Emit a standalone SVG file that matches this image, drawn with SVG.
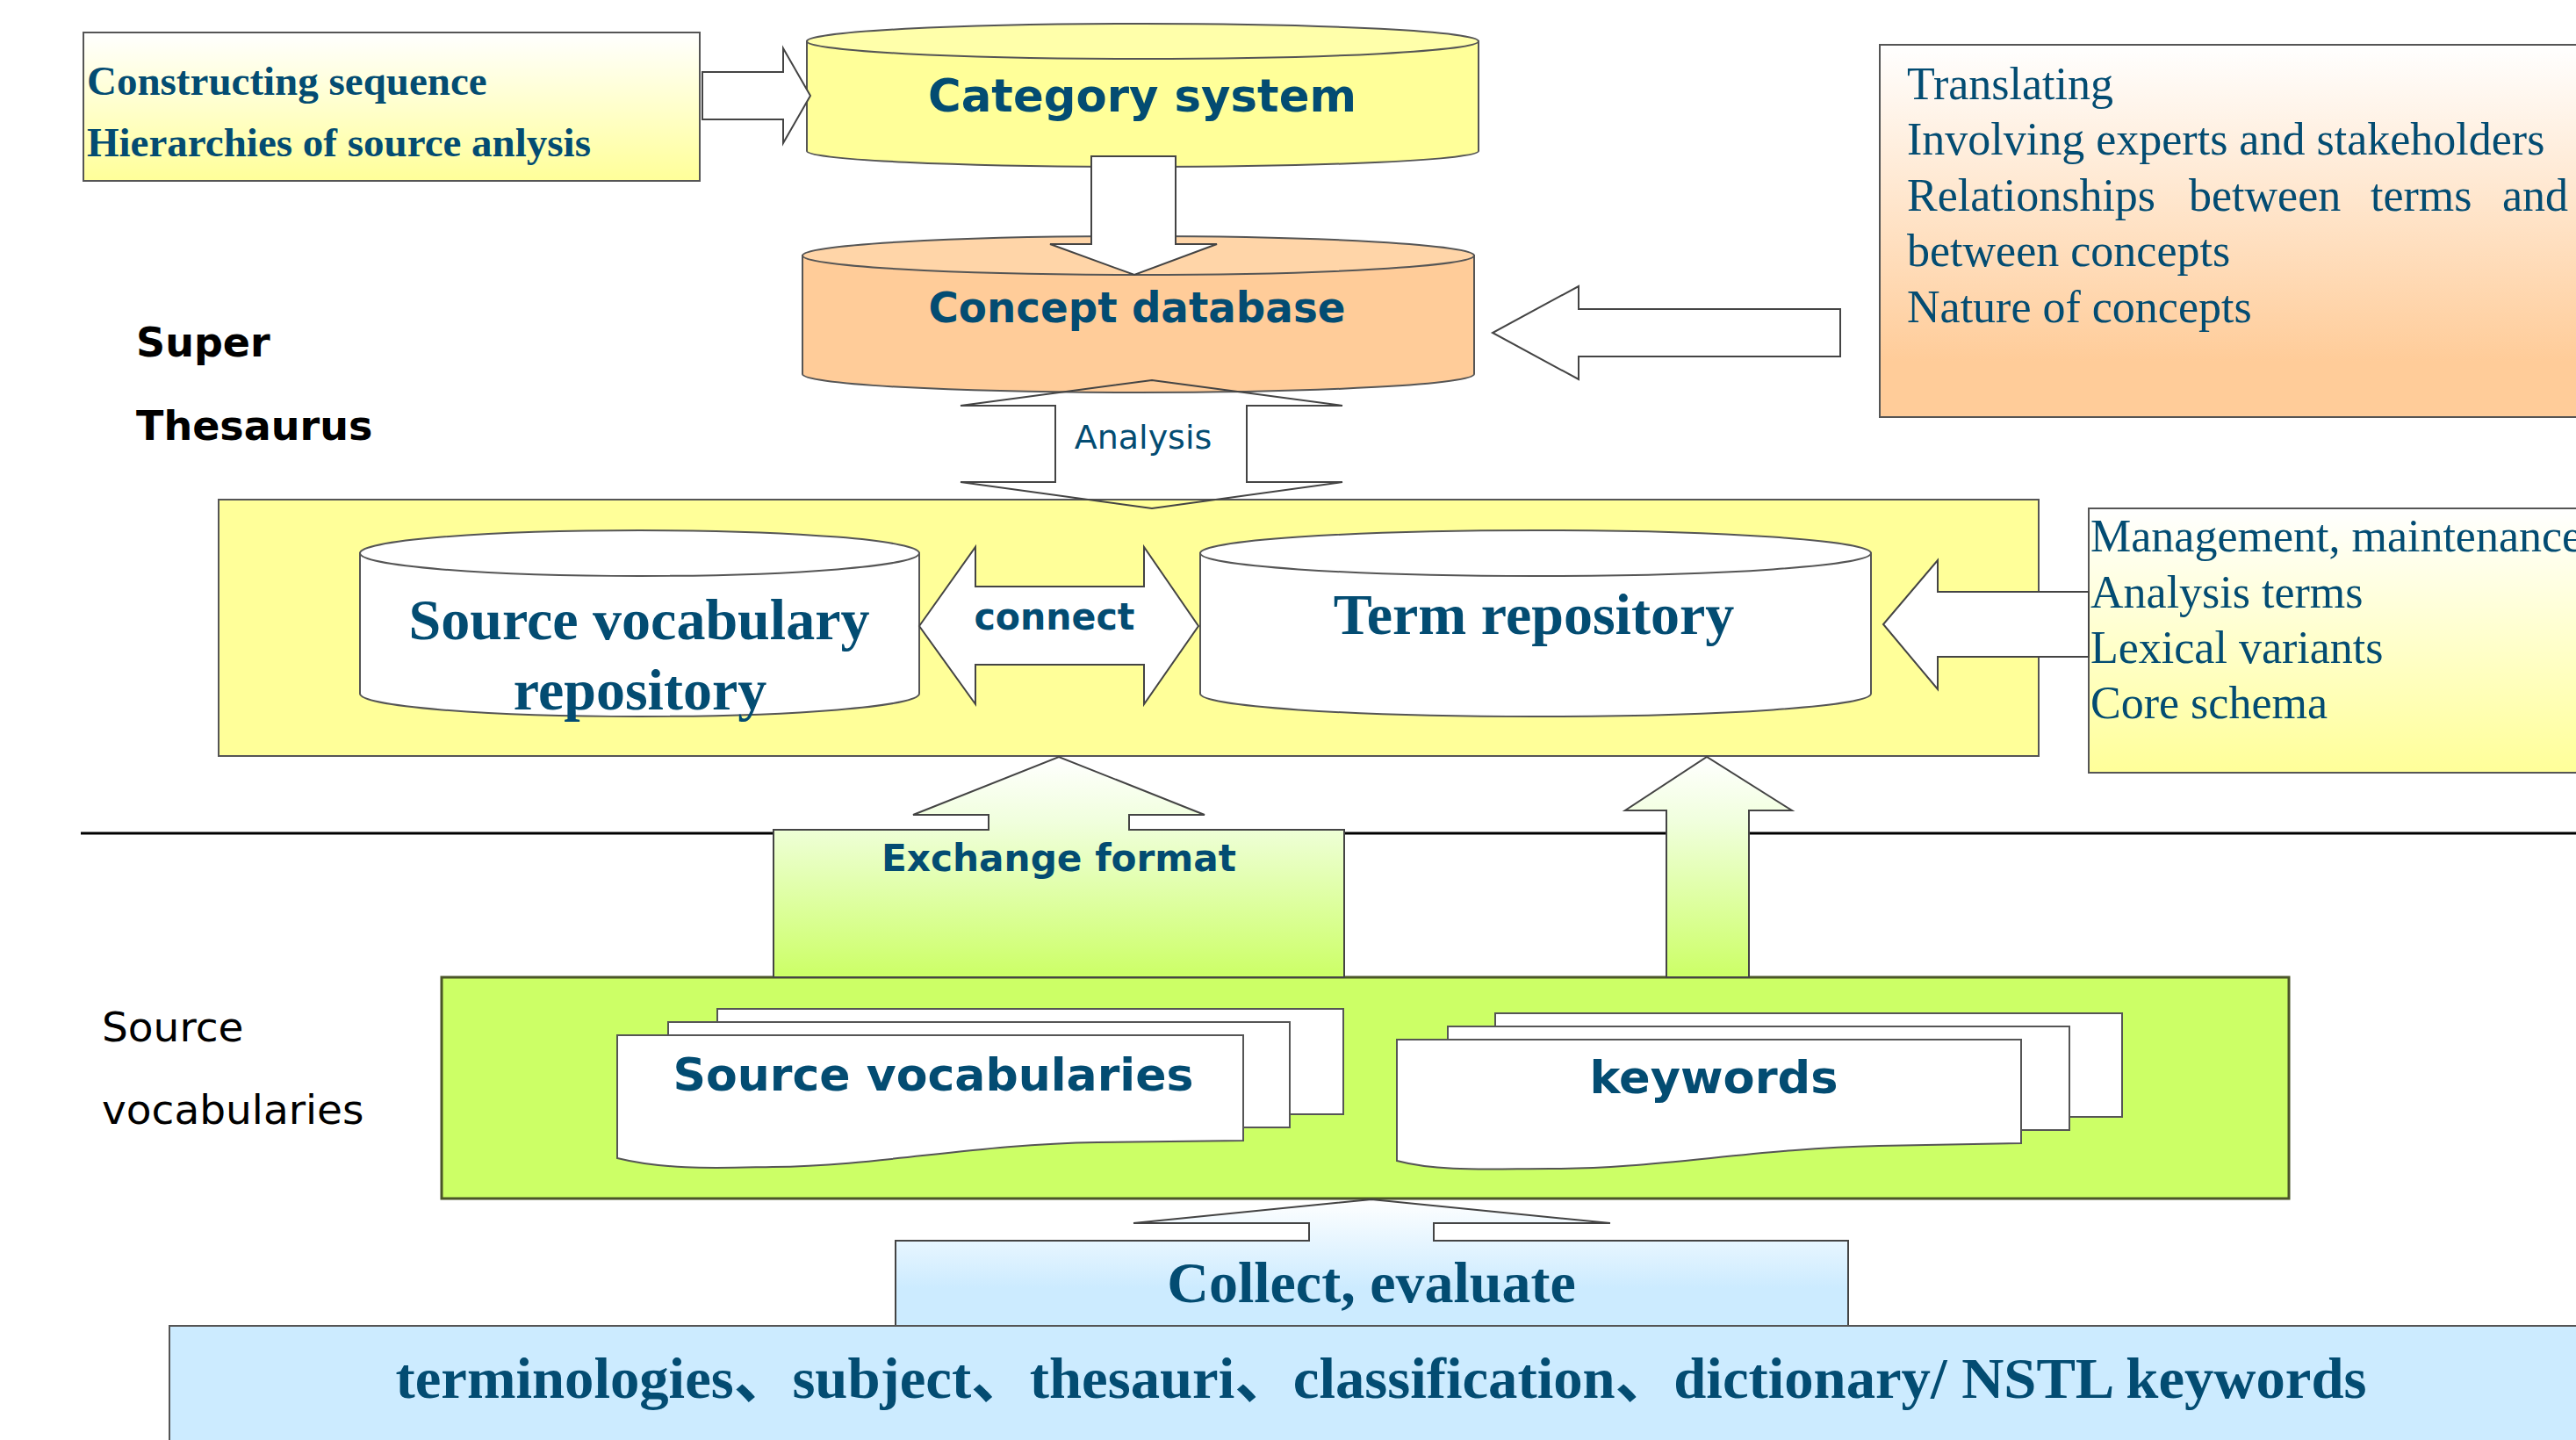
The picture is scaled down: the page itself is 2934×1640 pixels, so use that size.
<svg xmlns="http://www.w3.org/2000/svg" width="2934" height="1640" viewBox="0 0 2934 1640">
<defs>
<linearGradient id="gYel" x1="0" y1="0" x2="0" y2="1"><stop offset="0" stop-color="#FFFFFF"/><stop offset="1" stop-color="#FFFF99"/></linearGradient>
<linearGradient id="gPeach" x1="0" y1="0" x2="0" y2="1"><stop offset="0" stop-color="#FFFFFF"/><stop offset="0.85" stop-color="#FFCC99"/><stop offset="1" stop-color="#FFCC99"/></linearGradient>
<linearGradient id="gLime" x1="0" y1="0" x2="0" y2="1"><stop offset="0" stop-color="#FFFFFF"/><stop offset="0.3" stop-color="#F0FFDC"/><stop offset="1" stop-color="#CCFF66"/></linearGradient>
<linearGradient id="gBlue" x1="0" y1="0" x2="0" y2="1"><stop offset="0" stop-color="#FFFFFF"/><stop offset="0.7" stop-color="#CCEBFF"/><stop offset="1" stop-color="#CCEBFF"/></linearGradient>
<style>
.box{stroke:#555;stroke-width:2}
.arr{fill:#FFFFFF;stroke:#444;stroke-width:2;stroke-linejoin:miter}
.outl{fill:none;stroke:#444;stroke-width:2}
.cyl{stroke:#555;stroke-width:2}
.sb{font-family:"Liberation Serif","Times New Roman",serif;font-weight:bold;fill:#034C72}
.sr{font-family:"Liberation Serif","Times New Roman",serif;fill:#034C72}
.vb{font-family:"DejaVu Sans",Verdana,sans-serif;font-weight:bold;fill:#034C72}
.vr{font-family:"DejaVu Sans",Verdana,sans-serif;fill:#034C72}
.lab{font-family:"DejaVu Sans",Verdana,sans-serif;fill:#000000}
.cjk{font-family:"Liberation Serif","Noto Sans CJK SC",serif;font-weight:bold;fill:#034C72}
</style>
</defs>
<rect width="2934" height="1640" fill="#FFFFFF"/>

<!-- separator line -->
<line x1="92" y1="949" x2="2934" y2="949" stroke="#000" stroke-width="3"/>

<!-- analysis arrow fill (behind) -->
<polygon points="1312,433 1529,462 1420,462 1420,549 1529,549 1312,579 1094,549 1202,549 1202,462 1094,462" fill="#FFFFFF"/>

<g id="thesaurus-box">
<rect x="249" y="569" width="2073" height="292" fill="#FFFF99" class="box"/>
</g>

<g id="category-system">
<path d="M919,47 V172 A382.5,18 0 0 0 1684,172 V47 Z" fill="#FFFF99" class="cyl"/>
<ellipse cx="1301.5" cy="47" rx="382.5" ry="20" fill="#FFFFAA" class="cyl"/>
<text x="1301" y="127" class="vb" font-size="52" text-anchor="middle" textLength="488" lengthAdjust="spacingAndGlyphs">Category system</text>
</g>

<g id="concept-database">
<path d="M914,291 V426 A382.5,21 0 0 0 1679,426 V291 Z" fill="#FFCC99" class="cyl"/>
<ellipse cx="1296.5" cy="291" rx="382.5" ry="22" fill="#FFD5A8" class="cyl"/>
<text x="1295" y="367" class="vb" font-size="48" text-anchor="middle" textLength="475" lengthAdjust="spacingAndGlyphs">Concept database</text>
</g>

<g id="construct-box">
<rect x="95" y="37" width="702" height="169" fill="url(#gYel)" class="box"/>
<text x="99" y="108" class="sb" font-size="47">Constructing sequence</text>
<text x="99" y="178" class="sb" font-size="47">Hierarchies of source anlysis</text>
</g>

<g id="translating-box">
<rect x="2141" y="51" width="820" height="424" fill="url(#gPeach)" class="box"/>
<text class="sr" font-size="52">
<tspan x="2172" y="113">Translating</tspan>
<tspan x="2172" y="176">Involving experts and stakeholders</tspan>
<tspan x="2172" y="240">Relationships</tspan><tspan x="2493" y="240">between</tspan><tspan x="2700" y="240">terms</tspan><tspan x="2850" y="240">and</tspan>
<tspan x="2172" y="303">between concepts</tspan>
<tspan x="2172" y="367">Nature of concepts</tspan>
</text>
</g>

<g id="management-box">
<rect x="2379" y="579" width="600" height="301" fill="url(#gYel)" class="box"/>
<text class="sr" font-size="52">
<tspan x="2381" y="628">Management, maintenance</tspan>
<tspan x="2381" y="692">Analysis terms</tspan>
<tspan x="2381" y="755">Lexical variants</tspan>
<tspan x="2381" y="818">Core schema</tspan>
</text>
</g>

<g id="source-vocabulary-repository">
<path d="M410,630 V790 A318.5,26 0 0 0 1047,790 V630 Z" fill="#FFFFFF" class="cyl"/>
<ellipse cx="728.5" cy="630" rx="318.5" ry="26" fill="#FFFFFF" class="cyl"/>
<text x="728" y="728" class="sb" font-size="66" text-anchor="middle">Source vocabulary</text>
<text x="729" y="808" class="sb" font-size="66" text-anchor="middle">repository</text>
</g>

<g id="term-repository">
<path d="M1367,630 V790 A382,26 0 0 0 2131,790 V630 Z" fill="#FFFFFF" class="cyl"/>
<ellipse cx="1749" cy="630" rx="382" ry="26" fill="#FFFFFF" class="cyl"/>
<text x="1747" y="722" class="sb" font-size="66" text-anchor="middle">Term repository</text>
</g>

<g id="source-vocabularies-box">
<rect x="503" y="1113" width="2104" height="252" fill="#CCFF66" stroke="#4A5528" stroke-width="3"/>
</g>

<g id="source-vocabularies-doc">
<rect x="817" y="1149" width="713" height="120" fill="#FFFFFF" class="box"/>
<rect x="761" y="1164" width="708" height="120" fill="#FFFFFF" class="box"/>
<path d="M703,1179 H1416 V1299 L1250,1301 C1110,1303 1000,1328 880,1329 C820,1330 760,1333 703,1319 Z" fill="#FFFFFF" class="box"/>
<text x="1063" y="1242" class="vb" font-size="52" text-anchor="middle" textLength="593" lengthAdjust="spacingAndGlyphs">Source vocabularies</text>
</g>

<g id="keywords-doc">
<rect x="1703" y="1154" width="714" height="118" fill="#FFFFFF" class="box"/>
<rect x="1649" y="1169" width="708" height="118" fill="#FFFFFF" class="box"/>
<path d="M1591,1184 H2302 V1302 L2140,1305 C2000,1308 1880,1332 1766,1331 C1700,1331 1640,1335 1591,1322 Z" fill="#FFFFFF" class="box"/>
<text x="1952" y="1245" class="vb" font-size="52" text-anchor="middle" textLength="283" lengthAdjust="spacingAndGlyphs">keywords</text>
</g>

<g id="collect-evaluate">
<polygon points="1020,1510 1020,1413 1491,1413 1491,1393 1291,1393 1562,1366 1834,1393 1633,1393 1633,1413 2105,1413 2105,1510" fill="url(#gBlue)" stroke="#444" stroke-width="2"/>
<text x="1562" y="1483" class="sb" font-size="66" text-anchor="middle">Collect, evaluate</text>
</g>

<g id="terminologies-box">
<rect x="193" y="1510" width="2780" height="150" fill="#CCEBFF" stroke="#555" stroke-width="2"/>
<text x="1573" y="1592" class="cjk" font-size="66" text-anchor="middle" textLength="2245" lengthAdjust="spacingAndGlyphs">terminologies、subject、thesauri、classification、dictionary/ NSTL keywords</text>
</g>

<g id="labels">
<text x="155" y="406" class="lab" font-size="46" font-weight="bold">Super</text>
<text x="155" y="501" class="lab" font-size="46" font-weight="bold">Thesaurus</text>
<text x="116" y="1186" class="lab" font-size="47">Source</text>
<text x="116" y="1280" class="lab" font-size="47">vocabularies</text>
</g>

<g id="connectors">
<polygon class="arr" points="800,82 892,82 892,55 923,109 892,163 892,136 800,136"/>
<polygon class="arr" points="1243,178 1339,178 1339,278 1386,278 1292,313 1196,278 1243,278"/>
<polygon class="outl" points="1312,433 1529,462 1420,462 1420,549 1529,549 1312,579 1094,549 1202,549 1202,462 1094,462"/>
<text x="1302" y="511" class="vr" font-size="38" text-anchor="middle">Analysis</text>
<polygon class="arr" points="2096,352 1798,352 1798,326 1700,379 1798,432 1798,406 2096,406"/>
<polygon class="arr" points="1047,713 1111,623 1111,668 1303,668 1303,623 1365,713 1303,802 1303,757 1111,757 1111,802"/>
<text x="1201" y="717" class="vb" font-size="42" text-anchor="middle" textLength="183" lengthAdjust="spacingAndGlyphs">connect</text>
<polygon class="arr" points="2379,674 2207,674 2207,638 2145,711 2207,785 2207,748 2379,748"/>
<polygon points="881,1113 881,945 1126,945 1126,928 1040,928 1206,862 1372,928 1286,928 1286,945 1531,945 1531,1113" fill="url(#gLime)" stroke="#444" stroke-width="2"/>
<text x="1206" y="992" class="vb" font-size="42" text-anchor="middle" textLength="404" lengthAdjust="spacingAndGlyphs">Exchange format</text>
<polygon points="1898,1113 1898,923 1851,923 1944,862 2041,923 1992,923 1992,1113" fill="url(#gLime)" stroke="#444" stroke-width="2"/>
</g>
</svg>
